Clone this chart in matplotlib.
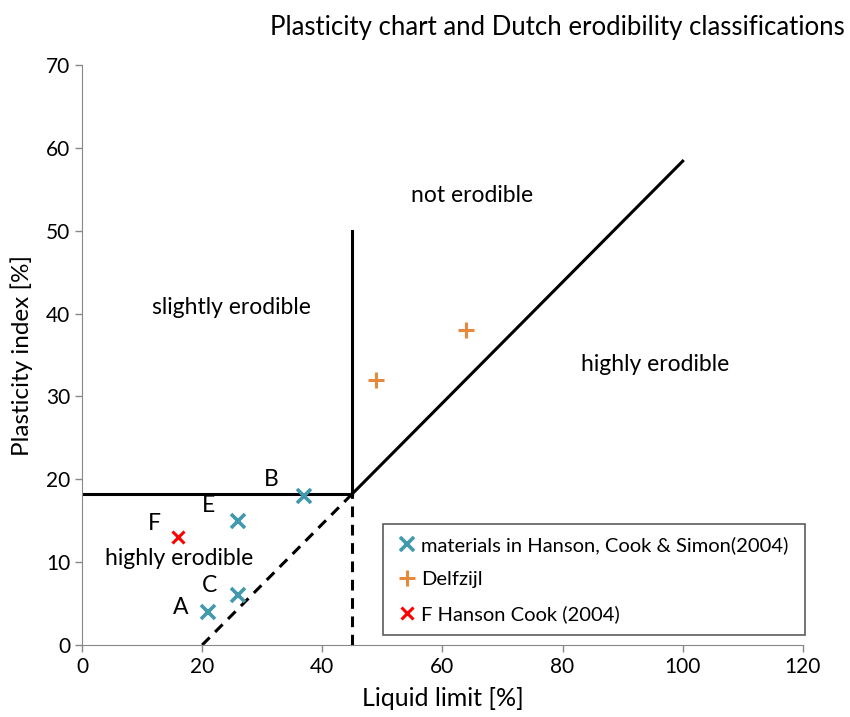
import matplotlib.pyplot as plt
import numpy as np

plt.rcParams['font.family'] = ['Lato', 'DejaVu Sans']

# measured samples (liquid limit, plasticity index)
hanson_ll = [21, 26, 26, 37]
hanson_pi = [4, 6, 15, 18]
hanson_names = ['A', 'C', 'E', 'B']
delfzijl_ll = [49, 64]
delfzijl_pi = [32, 38]
f_ll = [16]
f_pi = [13]

# classification boundaries
a_line_ll = [45, 100]
a_line_pi = [0.73 * (v - 20) for v in a_line_ll]
dash_ll = [20, 45]
dash_pi = [0.73 * (v - 20) for v in dash_ll]
split_ll = 45
split_pi = 0.73 * (split_ll - 20)

teal = '#4198af'
orange = '#e58a3c'
red = '#ff0000'

fig = plt.figure(figsize=(8.5, 7.17), dpi=100)
ax = fig.add_axes([0.0965, 0.1004, 0.848, 0.8089])

lw = 2.2
ax.plot([0, split_ll], [split_pi, split_pi], color='black', lw=lw)
ax.plot([split_ll, split_ll], [split_pi, 50], color='black', lw=lw)
ax.plot(a_line_ll, a_line_pi, color='black', lw=lw)
ax.plot(dash_ll, dash_pi, color='black', lw=lw, ls=(0, (3.5, 2.5)))
ax.plot([split_ll, split_ll], [0, split_pi], color='black', lw=lw, ls=(0, (3.5, 2.5)))

ax.plot(hanson_ll, hanson_pi, ls='none', marker='x', ms=10, mew=2.6, color=teal,
        label='materials in Hanson, Cook & Simon(2004)')
ax.plot(delfzijl_ll, delfzijl_pi, ls='none', marker='+', ms=11, mew=2.2, color=orange,
        label='Delfzijl')
ax.plot(f_ll, f_pi, ls='none', marker='x', ms=9, mew=2.2, color=red,
        label='F Hanson Cook (2004)')

fs = 16.5
# point labels
offsets = {'A': (-4.6, 0.5), 'C': (-4.8, 1.2), 'E': (-4.9, 1.8), 'B': (-5.5, 2.0)}
for name, x, y in zip(hanson_names, hanson_ll, hanson_pi):
    dx, dy = offsets[name]
    ax.text(x + dx, y + dy, name, fontsize=fs, ha='center', va='center')
ax.text(f_ll[0] - 3.9, f_pi[0] + 1.7, 'F', fontsize=fs, ha='center', va='center')

# zone names
ax.text(64.9, 54.2, 'not erodible', fontsize=fs, ha='center', va='center')
ax.text(24.8, 40.7, 'slightly erodible', fontsize=fs, ha='center', va='center')
ax.text(95.4, 33.9, 'highly erodible', fontsize=fs, ha='center', va='center')
ax.text(16.1, 10.4, 'highly erodible', fontsize=fs, ha='center', va='center')

ax.set_xlim(0, 120)
ax.set_ylim(0, 70)
ax.set_xticks(np.arange(0, 121, 20))
ax.set_yticks(np.arange(0, 71, 10))
ax.tick_params(colors='#888888', labelcolor='black', labelsize=15, length=5, width=1)
for side in ['top', 'right']:
    ax.spines[side].set_visible(False)
for side in ['left', 'bottom']:
    ax.spines[side].set_color('#888888')

ax.set_xlabel('Liquid limit [%]', fontsize=18, labelpad=7)
ax.set_ylabel('Plasticity index [%]', fontsize=17.5, labelpad=9)
fig.text(0.994, 0.962, 'Plasticity chart and Dutch erodibility classifications',
         fontsize=18.5, ha='right', va='center')

leg = ax.legend(loc='lower left', bbox_to_anchor=(0.4175, 0.017, 0.5855, 0.19),
                mode='expand', fontsize=14.5, frameon=True, fancybox=False,
                handlelength=1.2, handletextpad=0.1, borderaxespad=0,
                labelspacing=0.85, borderpad=0.6)
leg.get_frame().set_edgecolor('#333333')
leg.get_frame().set_linewidth(1.2)

fig.savefig('out.png', dpi=100)
